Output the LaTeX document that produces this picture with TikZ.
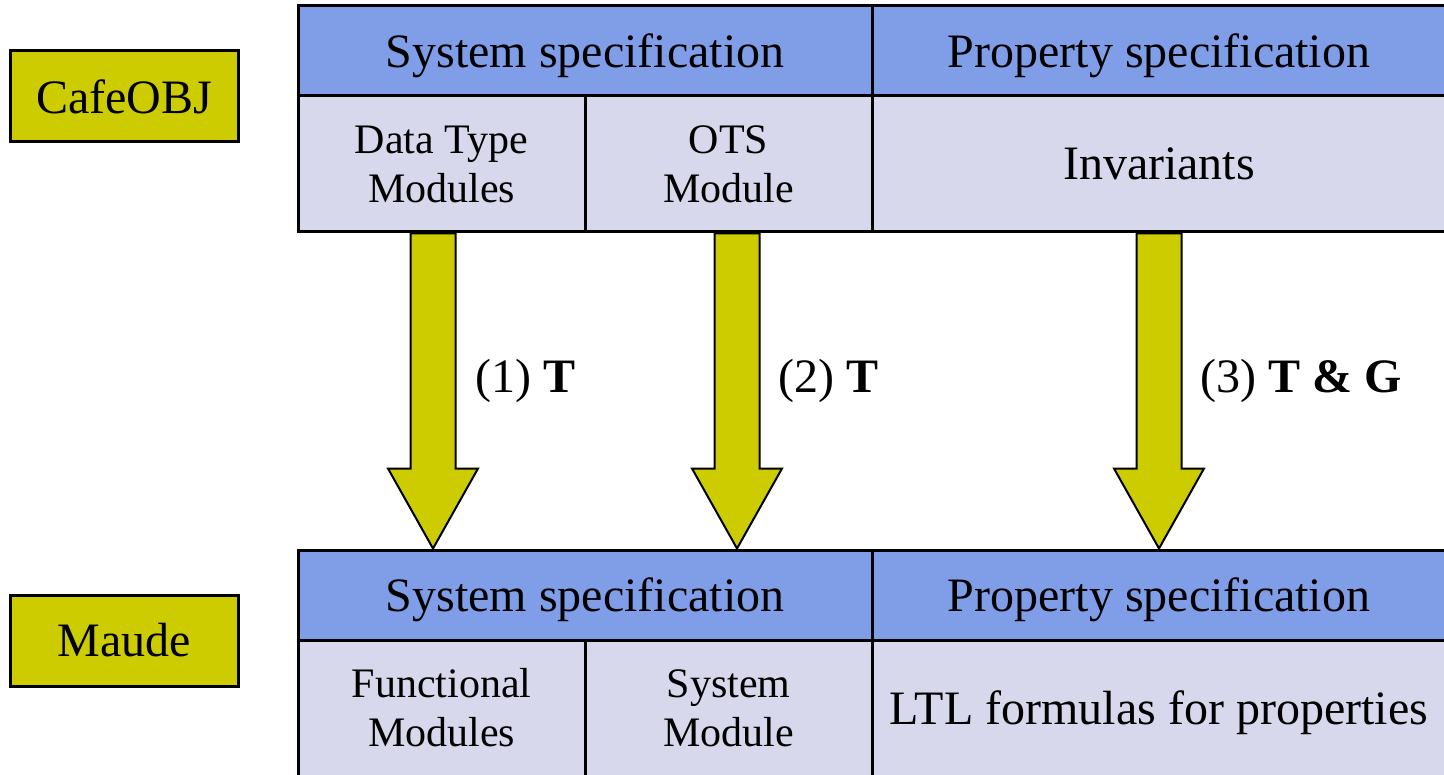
\documentclass[tikz,border=0pt]{standalone}
\usepackage{fontspec}
\setmainfont{Liberation Serif}
\usetikzlibrary{calc}
\definecolor{myyellow}{RGB}{204,204,0}
\definecolor{hdrblue}{RGB}{128,158,232}
\definecolor{celllav}{RGB}{216,216,236}
\begin{document}
\begin{tikzpicture}[x=0.5pt,y=-0.5pt,
  cell/.style={draw=black,line width=1.5pt,rectangle,inner sep=0pt,align=center,text=black},
  hdr/.style={cell,fill=hdrblue,minimum height=45pt,text depth=0pt,font=\fontsize{24}{28}\selectfont},
  body/.style={cell,fill=celllav,minimum height=68pt},
  smalltxt/.style={font=\fontsize{21}{24.5}\selectfont},
  bigtxt/.style={font=\fontsize{24}{28}\selectfont,text depth=0pt},
  lang/.style={draw=black,line width=1.5pt,fill=myyellow,minimum width=114pt,minimum height=45.5pt,inner sep=0pt,font=\fontsize{24}{28}\selectfont},
  bigarrow/.style={draw=black,line width=1pt,fill=myyellow,line join=miter},
  lbl/.style={font=\fontsize{24}{28}\selectfont,inner sep=0pt}
]
\useasboundingbox (0,0) rectangle (1444,775);
% language boxes
\node[lang] (cafe) at (124,96.5) {CafeOBJ};
\node[lang] (maude) at (124,640.5) {Maude};
% top table
\node[hdr,minimum width=287pt] (th1) at (585,51) {System specification};
\node[hdr,minimum width=287pt] (th2) at (1159,51) {Property specification};
\node[body,smalltxt,minimum width=143.5pt] (tc1) at (441.5,164) {Data Type\\Modules};
\node[body,smalltxt,minimum width=143.5pt] (tc2) at (728.5,164) {OTS\\Module};
\node[body,bigtxt,minimum width=287pt] (tc3) at (1159,164) {Invariants};
% bottom table
\node[hdr,minimum width=287pt] (bh1) at (585,595) {System specification};
\node[hdr,minimum width=287pt] (bh2) at (1159,595) {Property specification};
\node[body,smalltxt,minimum width=143.5pt] (bc1) at (441.5,708) {Functional\\Modules};
\node[body,smalltxt,minimum width=143.5pt] (bc2) at (728.5,708) {System\\Module};
\node[body,bigtxt,minimum width=287pt] (bc3) at (1159,708) {LTL formulas for properties};
% arrow endpoints
\coordinate (a1s) at (433,0 |- tc1.south);
\coordinate (a1e) at (433,0 |- bh1.north);
\coordinate (a2s) at (737,0 |- tc2.south);
\coordinate (a2e) at (737,0 |- bh1.north);
\coordinate (a3s) at (1159,0 |- tc3.south);
\coordinate (a3e) at (1159,0 |- bh2.north);
\foreach \s/\e in {a1s/a1e,a2s/a2e,a3s/a3e}{
  \draw[bigarrow] let \p1=(\s), \p2=(\e) in
    (\x1-11.25pt,\y1) -- (\x1-11.25pt,\y2+40pt) -- (\x1-22.5pt,\y2+40pt) -- (\x2,\y2)
    -- (\x1+22.5pt,\y2+40pt) -- (\x1+11.25pt,\y2+40pt) -- (\x1+11.25pt,\y1) -- cycle;
}
% labels
\node[lbl,anchor=west] (l1) at (475,381) {(1) \textbf{T}};
\node[lbl,anchor=west] (l2) at (778,381) {(2) \textbf{T}};
\node[lbl,anchor=west] (l3) at (1200,381) {(3) \textbf{T \& G}};
\end{tikzpicture}
\end{document}
